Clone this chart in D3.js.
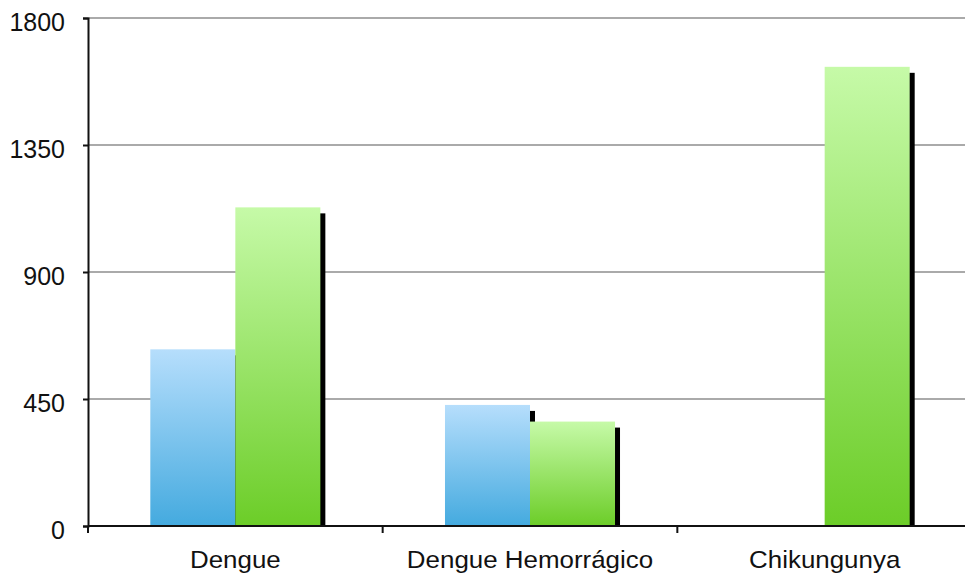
<!DOCTYPE html>
<html>
<head>
<meta charset="utf-8">
<script src="https://cdn.jsdelivr.net/npm/d3@7"></script>
<style>
  html, body { margin: 0; padding: 0; background: #fff; }
  svg { display: block; }
  text { font-family: "Liberation Sans", Arial, Helvetica, sans-serif; fill: #111; }
</style>
</head>
<body>
<svg id="chart" width="965" height="574"></svg>
<script>
// Chart data
const categories = ["Dengue", "Dengue Hemorrágico", "Chikungunya"];
const seriesNames = ["Serie 1", "Serie 2"];
const serie1 = [626, 429, 0];
const serie2 = [1129, 370, 1627];
const yTicks = [0, 450, 900, 1350, 1800];

const W = 965, H = 574;
const margin = { left: 88, top: 18, bottom: 48 };
const plotRight = 972;

const svg = d3.select("#chart");

const x = d3.scaleBand().domain(categories).range([margin.left, plotRight]).padding(0);
const xInner = d3.scaleBand().domain(seriesNames)
  .range([0, x.bandwidth()]).paddingInner(0).paddingOuter(0.733);
const y = d3.scaleLinear().domain([0, 1800]).range([H - margin.bottom, margin.top]);

// Gradients
const defs = svg.append("defs");
const grads = [
  { id: "g0", top: "#b6defc", bottom: "#44aadf" },
  { id: "g1", top: "#c6faa8", bottom: "#6ccd28" }
];
grads.forEach(g => {
  const lg = defs.append("linearGradient").attr("id", g.id)
    .attr("x1", 0).attr("y1", 0).attr("x2", 0).attr("y2", 1);
  lg.append("stop").attr("offset", "0%").attr("stop-color", g.top);
  lg.append("stop").attr("offset", "100%").attr("stop-color", g.bottom);
});
defs.append("filter").attr("id", "soft")
  .append("feGaussianBlur").attr("stdDeviation", 0.6);

// Horizontal gridlines
svg.append("g").selectAll("line").data(yTicks.filter(d => d > 0)).join("line")
  .attr("x1", margin.left).attr("x2", W)
  .attr("y1", d => y(d)).attr("y2", d => y(d))
  .attr("stroke", "#aaaaaa").attr("stroke-width", 2);

// Bars with drop shadows
const rows = categories.map((c, i) => ({ cat: c, vals: [serie1[i], serie2[i]] }));
const bars = svg.append("g");
rows.forEach(r => {
  r.vals.forEach((v, j) => {
    if (!v) return;
    const bx = x(r.cat) + xInner(seriesNames[j]);
    const bw = xInner.bandwidth();
    bars.append("rect")
      .attr("x", bx + 5).attr("y", y(v) + 6)
      .attr("width", bw).attr("height", y(0) - y(v) - 6)
      .attr("fill", "#000").attr("filter", "url(#soft)");
    bars.append("rect")
      .attr("x", bx).attr("y", y(v))
      .attr("width", bw).attr("height", y(0) - y(v))
      .attr("fill", `url(#g${j})`);
  });
});

// Y axis
const yAxis = d3.axisLeft(y).tickValues(yTicks).tickFormat(d3.format("d"))
  .tickSize(5).tickPadding(18);
const gy = svg.append("g").attr("transform", `translate(${margin.left},0)`).call(yAxis);
gy.select(".domain").attr("stroke", "#111").attr("stroke-width", 2);
gy.selectAll(".tick line").attr("stroke", "#111").attr("stroke-width", 2);
gy.selectAll(".tick text").attr("font-size", 25).attr("dy", "0.48em")
  .style("font-family", "'Liberation Sans', Arial, sans-serif").attr("fill", "#111");

// X axis
const xAxis = d3.axisBottom(x).tickSize(0).tickSizeOuter(0);
const gx = svg.append("g").attr("transform", `translate(0,${y(0)})`).call(xAxis);
gx.select(".domain").attr("stroke", "#111").attr("stroke-width", 2)
  .attr("d", `M${margin.left},0H${W}`);
gx.selectAll(".tick text").remove();
gx.selectAll(".tick line").remove();
// Category separator ticks
svg.append("g").selectAll("line").data(categories).join("line")
  .attr("x1", d => x(d)).attr("x2", d => x(d))
  .attr("y1", y(0)).attr("y2", y(0) + 7)
  .attr("stroke", "#111").attr("stroke-width", 2);
// Category labels
svg.append("g").selectAll("text").data(categories).join("text")
  .attr("transform", d => `translate(${x(d) + x.bandwidth() / 2},568) scale(1.08,1)`)
  .attr("text-anchor", "middle").attr("font-size", 24)
  .text(d => d);
</script>
</body>
</html>
